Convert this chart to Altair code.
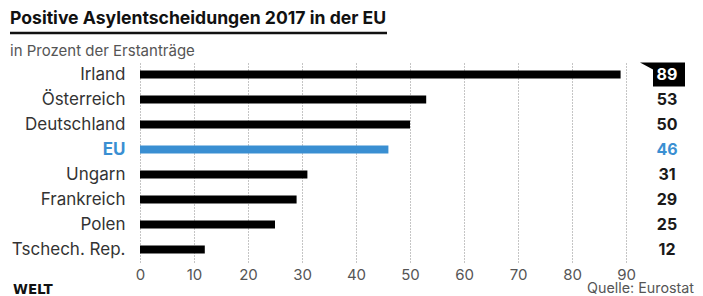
import altair as alt
import pandas as pd

countries = ["Irland", "Österreich", "Deutschland", "EU", "Ungarn", "Frankreich", "Polen", "Tschech. Rep."]
values = [89, 53, 50, 46, 31, 29, 25, 12]
tick_values = [0, 10, 20, 30, 40, 50, 60, 70, 80, 90]

title_text = "Positive Asylentscheidungen 2017 in der EU"
subtitle_text = "in Prozent der Erstanträge"
brand_text = "WELT"
source_text = "Quelle: Eurostat"

FONT = "Inter"
BLUE = "#3a8fd2"

df = pd.DataFrame({"country": countries, "value": values})

base = alt.Chart(df)

y_enc = alt.Y(
    "country:N",
    sort=countries,
    title=None,
    scale=alt.Scale(paddingInner=0, paddingOuter=0),
    axis=alt.Axis(
        domain=False,
        ticks=False,
        labelPadding=15,
        labelFontSize=17,
        labelFont=FONT,
        labelColor=alt.expr(f"datum.value == 'EU' ? '{BLUE}' : '#333333'"),
        labelFontWeight=alt.expr("datum.value == 'EU' ? 'bold' : 'normal'"),
    ),
)

bars = base.mark_bar(size=8).encode(
    x=alt.X(
        "value:Q",
        title=None,
        scale=alt.Scale(domain=[0, 90], nice=False),
        axis=alt.Axis(
            values=tick_values,
            domain=False,
            ticks=False,
            grid=True,
            gridDash=[1, 2],
            gridColor="#8a8a8a",
            gridWidth=1,
            labelFontSize=15,
            labelFont=FONT,
            labelColor="#555555",
            labelPadding=5,
            labelFlush=False,
        ),
    ),
    y=y_enc,
    color=alt.condition(alt.datum.country == "EU", alt.value(BLUE), alt.value("#000000")),
)

flag = base.transform_filter(alt.datum.country == "Irland").mark_point(
    shape="M -27 -12 L 18 -12 L 18 12 L -14 12 L -14 -5 Z",
    size=4,
    filled=True,
    opacity=1,
    strokeWidth=0,
    color="#000000",
).encode(x=alt.value(527), y=y_enc)

labels = base.mark_text(
    font=FONT, fontSize=16, fontWeight="bold", align="center", baseline="middle"
).encode(
    x=alt.value(527),
    y=y_enc,
    text=alt.Text("value:Q"),
    color=alt.when(alt.datum.country == "Irland")
    .then(alt.value("#ffffff"))
    .when(alt.datum.country == "EU")
    .then(alt.value(BLUE))
    .otherwise(alt.value("#1a1a1a")),
)

one = alt.Chart(pd.DataFrame({"k": [0]}))

title = one.mark_text(
    font=FONT, fontSize=17.6, fontWeight="bold", align="left", baseline="alphabetic", color="#111111"
).encode(x=alt.value(-130), y=alt.value(-38), text=alt.value(title_text))

underline = one.mark_rule(color="#111111", strokeWidth=2.5).encode(
    x=alt.value(-130), x2=alt.value(247), y=alt.value(-29)
)

subtitle = one.mark_text(
    font=FONT, fontSize=15, align="left", baseline="alphabetic", color="#555555"
).encode(x=alt.value(-130), y=alt.value(-6), text=alt.value(subtitle_text))

brand = one.mark_text(
    font="DejaVu Sans", fontSize=13.5, fontWeight="bold", align="left", baseline="alphabetic", color="#111111"
).encode(x=alt.value(-127), y=alt.value(232), text=alt.value(brand_text))

source = one.mark_text(
    font=FONT, fontSize=14.3, align="right", baseline="alphabetic", color="#555555"
).encode(x=alt.value(554), y=alt.value(231), text=alt.value(source_text))

chart = (
    alt.layer(bars, flag, labels, title, underline, subtitle, brand, source)
    .properties(
        width=486,
        height=200,
        autosize=alt.AutoSizeParams(type="none"),
        padding={"left": 132, "top": 54, "right": 69, "bottom": 34},
    )
    .configure_view(stroke=None)
)

chart.save("out.html", embed_options={"renderer": "svg", "actions": False})
